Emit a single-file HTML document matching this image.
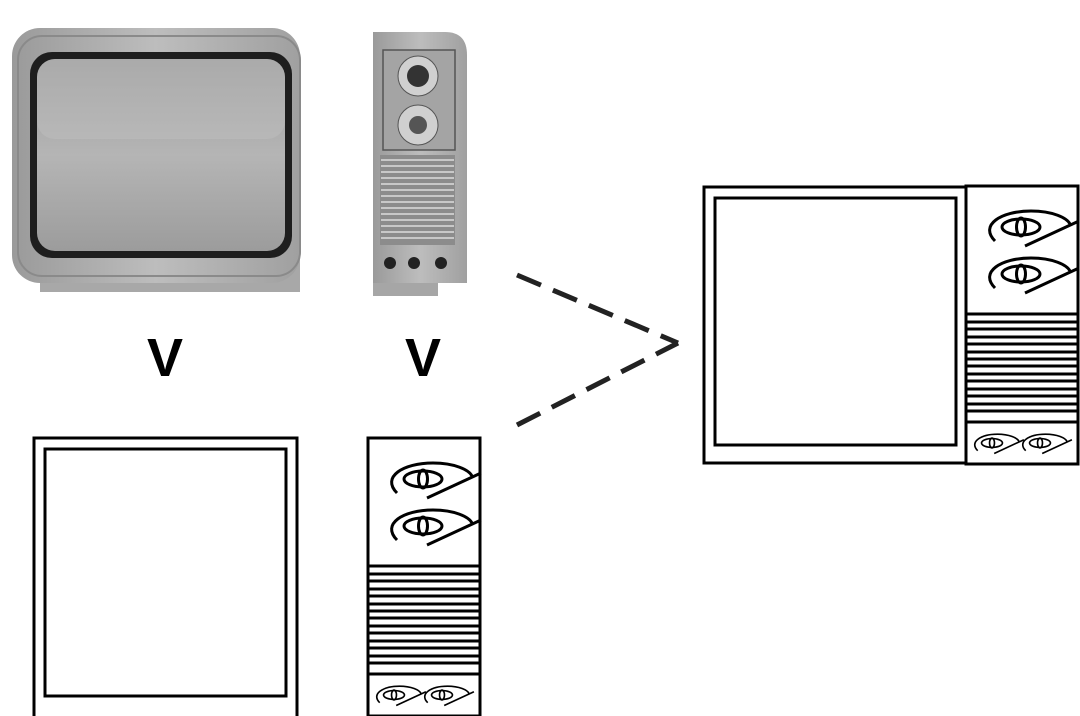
<!DOCTYPE html>
<html><head><meta charset="utf-8"><style>html,body{margin:0;padding:0;background:#fff}svg{display:block}</style></head>
<body>
<svg width="1080" height="716" viewBox="0 0 1080 716" xmlns="http://www.w3.org/2000/svg">
<defs>
<linearGradient id="scr" x1="0" y1="0" x2="0" y2="1"><stop offset="0" stop-color="#9a9a9a"/><stop offset="0.5" stop-color="#b5b5b5"/><stop offset="1" stop-color="#9c9c9c"/></linearGradient>
<linearGradient id="body" x1="0" y1="0" x2="1" y2="0"><stop offset="0" stop-color="#9a9a9a"/><stop offset="0.5" stop-color="#bdbdbd"/><stop offset="1" stop-color="#a0a0a0"/></linearGradient>
<g id="eye" fill="none" stroke="#000" stroke-width="3">
<path d="M -26 14 C -42 -2 -20 -16 10 -16 C 32 -16 46 -9 49 -3"/>
<ellipse cx="0" cy="0" rx="19" ry="8"/>
<ellipse cx="0" cy="0" rx="4.5" ry="9"/>
<path d="M 4 19 L 58 -6"/>
</g>
<g id="panel">
<rect x="0" y="0" width="112" height="278" fill="#fff" stroke="#000" stroke-width="3"/>
<use href="#eye" transform="translate(55,41)"/>
<use href="#eye" transform="translate(55,88)"/>
<line x1="0" y1="128" x2="112" y2="128" stroke="#000" stroke-width="3"/>
<g stroke="#000" stroke-width="3">
<line x1="0" y1="136" x2="112" y2="136"/><line x1="0" y1="143" x2="112" y2="143"/><line x1="0" y1="151" x2="112" y2="151"/><line x1="0" y1="158" x2="112" y2="158"/><line x1="0" y1="166" x2="112" y2="166"/><line x1="0" y1="173" x2="112" y2="173"/><line x1="0" y1="180" x2="112" y2="180"/><line x1="0" y1="188" x2="112" y2="188"/><line x1="0" y1="195" x2="112" y2="195"/><line x1="0" y1="203" x2="112" y2="203"/><line x1="0" y1="210" x2="112" y2="210"/><line x1="0" y1="218" x2="112" y2="218"/><line x1="0" y1="225" x2="112" y2="225"/><line x1="0" y1="236" x2="112" y2="236"/>
</g>
<use href="#eye" transform="translate(26,257) scale(0.55)"/>
<use href="#eye" transform="translate(74,257) scale(0.55)"/>
</g>
</defs>

<rect x="40" y="255" width="260" height="37" fill="#a8a8a8"/>
<rect x="12" y="28" width="288" height="255" rx="28" fill="url(#body)"/>
<rect x="18" y="36" width="282" height="240" rx="24" fill="none" stroke="#8a8a8a" stroke-width="2"/>
<rect x="30" y="52" width="262" height="206" rx="22" fill="#1e1e1e"/>
<rect x="37" y="59" width="248" height="192" rx="18" fill="url(#scr)"/>
<rect x="37" y="59" width="248" height="80" rx="18" fill="#c4c4c4" opacity="0.4"/>

<rect x="373" y="270" width="65" height="26" fill="#a6a6a6"/>
<path d="M373 32 L445 32 Q467 32 467 55 L467 283 L373 283 Z" fill="url(#body)"/>
<rect x="383" y="50" width="72" height="100" fill="#a4a4a4" stroke="#555" stroke-width="1.5"/>
<circle cx="418" cy="76" r="20" fill="#d0d0d0" stroke="#555"/><circle cx="418" cy="76" r="11" fill="#333"/>
<circle cx="418" cy="125" r="20" fill="#d0d0d0" stroke="#555"/><circle cx="418" cy="125" r="9" fill="#555"/>
<rect x="380" y="155" width="75" height="90" fill="#8c8c8c"/>
<g stroke="#c8c8c8" stroke-width="2"><line x1="381" y1="160" x2="454" y2="160"/><line x1="381" y1="166" x2="454" y2="166"/><line x1="381" y1="172" x2="454" y2="172"/><line x1="381" y1="178" x2="454" y2="178"/><line x1="381" y1="184" x2="454" y2="184"/><line x1="381" y1="190" x2="454" y2="190"/><line x1="381" y1="196" x2="454" y2="196"/><line x1="381" y1="202" x2="454" y2="202"/><line x1="381" y1="208" x2="454" y2="208"/><line x1="381" y1="214" x2="454" y2="214"/><line x1="381" y1="220" x2="454" y2="220"/><line x1="381" y1="226" x2="454" y2="226"/><line x1="381" y1="232" x2="454" y2="232"/><line x1="381" y1="238" x2="454" y2="238"/></g>
<circle cx="390" cy="263" r="6" fill="#222"/><circle cx="414" cy="263" r="6" fill="#222"/><circle cx="441" cy="263" r="6" fill="#222"/>

<text x="165" y="376" font-family="Liberation Sans, sans-serif" font-weight="bold" font-size="54" text-anchor="middle">V</text>
<text x="423" y="376" font-family="Liberation Sans, sans-serif" font-weight="bold" font-size="54" text-anchor="middle">V</text>

<rect x="34" y="438" width="263" height="280" fill="none" stroke="#000" stroke-width="3"/>
<rect x="45" y="449" width="241" height="247" fill="none" stroke="#000" stroke-width="3"/>
<use href="#panel" transform="translate(368,438)"/>

<g stroke="#222" stroke-width="5" stroke-dasharray="26 13" fill="none">
<line x1="517" y1="275" x2="678" y2="343"/>
<line x1="517" y1="425" x2="678" y2="343"/>
</g>

<rect x="704" y="187" width="374" height="276" fill="none" stroke="#000" stroke-width="3"/>
<rect x="715" y="198" width="241" height="247" fill="none" stroke="#000" stroke-width="3"/>
<use href="#panel" transform="translate(966,186)"/>
</svg>
</body></html>
